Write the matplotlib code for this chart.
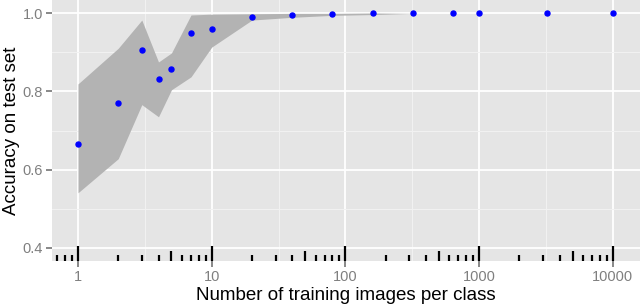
import matplotlib
matplotlib.use("Agg")
import matplotlib.pyplot as plt
import numpy as np

# training images per class and the measured accuracy
n_images = [1, 2, 3, 4, 5, 7, 10, 20, 40, 80, 160, 320, 640, 1000, 3200, 10000]
accuracy = [0.666, 0.771, 0.906, 0.832, 0.857, 0.949, 0.959, 0.990, 0.996,
            0.998, 0.999, 0.999, 0.999, 0.999, 0.9995, 0.9995]

# spread band (min / max over runs)
band_x = [1, 2, 3, 4, 5, 7, 10, 20, 40, 80, 160, 320]
band_lo = [0.541, 0.628, 0.766, 0.735, 0.804, 0.837, 0.913, 0.982, 0.989, 0.994, 0.996, 0.999]
band_hi = [0.819, 0.910, 0.982, 0.875, 0.898, 0.995, 0.997, 0.998, 0.999, 0.999, 1.000, 0.999]

x_ticks = [1, 10, 100, 1000, 10000]
x_tick_labels = ["1", "10", "100", "1000", "10000"]
y_ticks = [0.4, 0.6, 0.8, 1.0]
y_tick_labels = ["0.4", "0.6", "0.8", "1.0"]

plt.rcParams["font.family"] = ["Liberation Sans", "DejaVu Sans"]

fig = plt.figure(figsize=(6.4, 3.06), dpi=100)
ax = fig.add_axes([52 / 640, 45 / 306, 1 - 52 / 640, 1 - 45 / 306])
ax.set_facecolor("#E5E5E5")
for spine in ax.spines.values():
    spine.set_visible(False)

ax.set_xscale("log")
ax.set_xlim(0.639, 15960)
ax.set_ylim(0.3668, 1.0332)

# grid like ggplot2
for v in x_ticks:
    ax.axvline(v, color="white", lw=1.3, zorder=1)
for v in [10 ** (k + 0.5) for k in range(0, 4)]:
    ax.axvline(v, color="#F2F2F2", lw=0.7, zorder=1)
for v in y_ticks:
    ax.axhline(v, color="white", lw=1.3, zorder=1)
for v in [0.5, 0.7, 0.9]:
    ax.axhline(v, color="#F2F2F2", lw=0.7, zorder=1)

ax.fill_between(band_x, band_lo, band_hi, color="#B3B3B3", lw=0, zorder=2)
ax.plot(n_images, accuracy, "o", color="#0000FF", markersize=3.6, zorder=3)

# log ticks along the bottom of the panel
trans = ax.get_xaxis_transform()
panel_h = 261.0
for decade in [0.1, 1, 10, 100, 1000, 10000]:
    for k in range(1, 10):
        xv = k * decade
        if xv < 0.639 or xv > 15960:
            continue
        if k == 1:
            length = 15
        elif k == 5:
            length = 10
        else:
            length = 6
        ax.plot([xv, xv], [0, length / panel_h], color="black", lw=1.6,
                transform=trans, solid_capstyle="butt", zorder=4)

ax.set_xticks(x_ticks)
ax.set_xticklabels(x_tick_labels)
ax.xaxis.set_minor_locator(matplotlib.ticker.NullLocator())
ax.set_yticks(y_ticks)
ax.set_yticklabels(y_tick_labels)
ax.tick_params(axis="both", colors="#7F7F7F", labelcolor="#7F7F7F",
               labelsize=10.5, width=1.3, length=4.5, pad=2)

ax.set_xlabel("Number of training images per class", fontsize=13.5, labelpad=2)
ax.set_ylabel("Accuracy on test set", fontsize=13.5, labelpad=2)

fig.savefig("out.png", dpi=100)
